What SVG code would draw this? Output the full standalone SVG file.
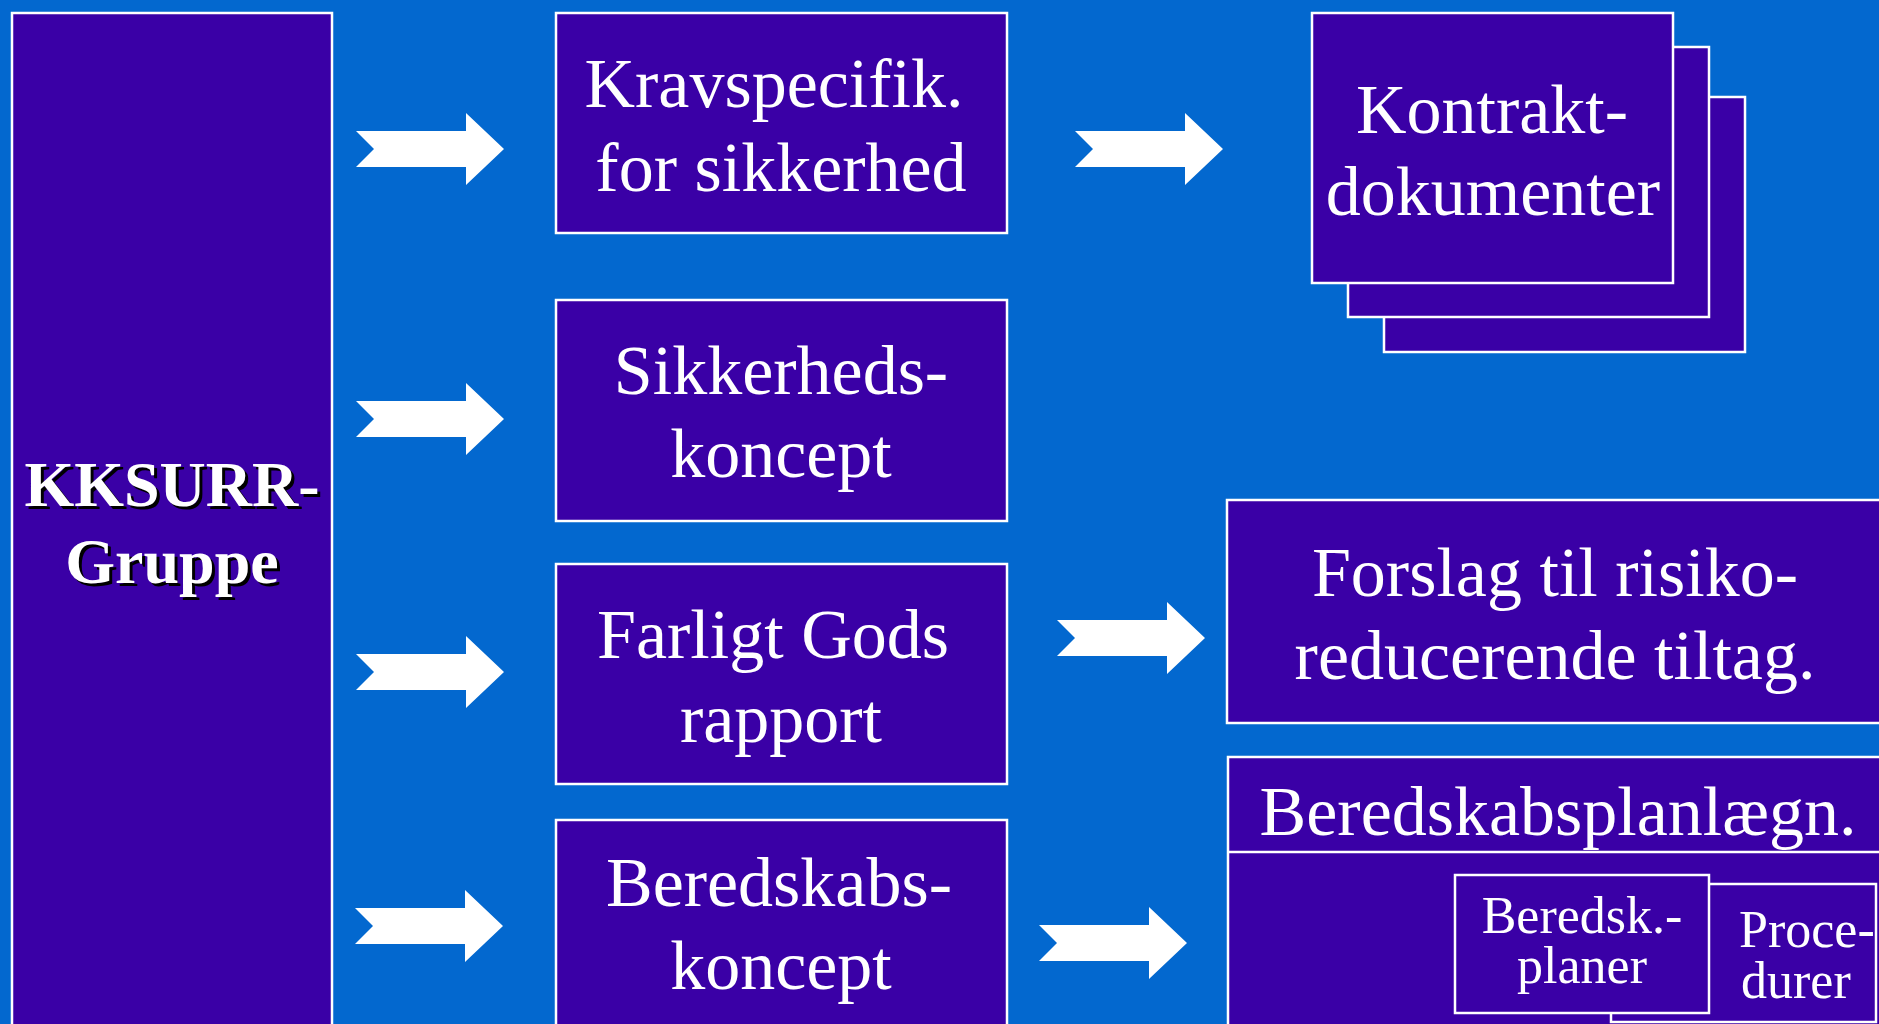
<svg xmlns="http://www.w3.org/2000/svg" xmlns:xlink="http://www.w3.org/1999/xlink" width="1879" height="1024" viewBox="0 0 1879 1024">
<style>
.box{fill:#3A00A6;stroke:#FFFFFF;stroke-width:2.5}
.t{font-family:"Liberation Serif","Times New Roman",serif;font-size:70px;fill:#FFFFFF;text-anchor:middle}
.s{font-family:"Liberation Serif","Times New Roman",serif;font-size:52px;fill:#FFFFFF}
.b{font-family:"Liberation Serif","Times New Roman",serif;font-size:64px;font-weight:bold;text-anchor:middle}
.arr{fill:#FFFFFF}
</style>
<defs>
<path id="arrow" d="M0,-18 L110,-18 L110,-36 L148,0 L110,36 L110,18 L0,18 L18,0 Z"/>
</defs>
<rect x="0" y="0" width="1879" height="1024" fill="#0368CF"/>

<g id="connectors" class="arr">
<use xlink:href="#arrow" transform="translate(356,149)"/>
<use xlink:href="#arrow" transform="translate(356,419)"/>
<use xlink:href="#arrow" transform="translate(356,672)"/>
<use xlink:href="#arrow" transform="translate(355,926)"/>
<use xlink:href="#arrow" transform="translate(1075,149)"/>
<use xlink:href="#arrow" transform="translate(1057,638)"/>
<use xlink:href="#arrow" transform="translate(1039,943)"/>
</g>

<g id="kksurr">
<rect class="box" x="12" y="13" width="320" height="1030"/>
<text class="b" x="175" y="509" fill="#000000">KKSURR-</text>
<text class="b" x="175" y="586" fill="#000000">Gruppe</text>
<text class="b" x="172" y="506" fill="#FFFFFF">KKSURR-</text>
<text class="b" x="172" y="583" fill="#FFFFFF">Gruppe</text>
</g>

<g id="kravspec">
<rect class="box" x="556" y="13" width="451" height="220"/>
<text class="t" x="774" y="107">Kravspecifik.</text>
<text class="t" x="781" y="191">for sikkerhed</text>
</g>

<g id="sikkerhedskoncept">
<rect class="box" x="556" y="300" width="451" height="221"/>
<text class="t" x="781" y="394">Sikkerheds-</text>
<text class="t" x="781" y="477">koncept</text>
</g>

<g id="farligtgods">
<rect class="box" x="556" y="564" width="451" height="220"/>
<text class="t" x="773" y="658">Farligt Gods</text>
<text class="t" x="781" y="742">rapport</text>
</g>

<g id="beredskabskoncept">
<rect class="box" x="556" y="820" width="451" height="230"/>
<text class="t" x="779" y="906">Beredskabs-</text>
<text class="t" x="781" y="989">koncept</text>
</g>

<g id="kontrakt">
<rect class="box" x="1384" y="97" width="361" height="255"/>
<rect class="box" x="1348" y="47" width="361" height="270"/>
<rect class="box" x="1312" y="13" width="361" height="270"/>
<text class="t" x="1492" y="133">Kontrakt-</text>
<text class="t" x="1493" y="215">dokumenter</text>
</g>

<g id="forslag">
<rect class="box" x="1227" y="500" width="670" height="223"/>
<text class="t" x="1555" y="596">Forslag til risiko-</text>
<text class="t" x="1555" y="679">reducerende tiltag.</text>
</g>

<g id="beredskabsplan">
<rect class="box" x="1228" y="757" width="670" height="300"/>
<line x1="1228" y1="852" x2="1879" y2="852" stroke="#FFFFFF" stroke-width="2.5"/>
<text class="t" x="1558" y="835">Beredskabsplanlægn.</text>
</g>

<g id="procedurer">
<rect class="box" x="1611" y="884" width="265" height="138"/>
<text class="s" x="1739" y="947">Proce-</text>
<text class="s" x="1741" y="998">durer</text>
</g>

<g id="beredskplaner">
<rect class="box" x="1455" y="875" width="254" height="138"/>
<text class="s" x="1582" y="933" text-anchor="middle">Beredsk.-</text>
<text class="s" x="1582" y="983" text-anchor="middle">planer</text>
</g>
</svg>
